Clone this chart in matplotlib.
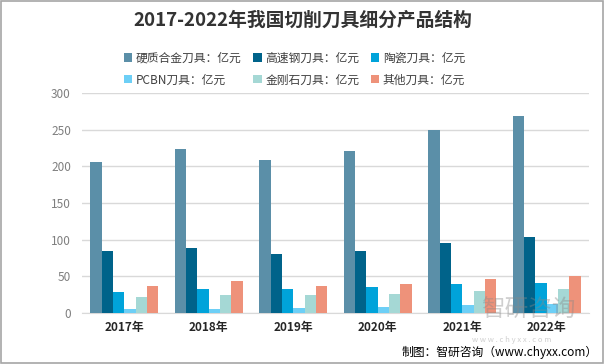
import numpy as np
import matplotlib
matplotlib.use("Agg")
import matplotlib.pyplot as plt
from matplotlib.patches import Rectangle

plt.rcParams['font.family'] = ['Noto Sans CJK SC', 'DejaVu Sans']

# data (亿元)
years = ['2017年', '2018年', '2019年', '2020年', '2021年', '2022年']
series_names = ['硬质合金刀具：亿元', '高速钢刀具：亿元', '陶瓷刀具：亿元',
                'PCBN刀具：亿元', '金刚石刀具：亿元', '其他刀具：亿元']
hard_alloy = [206, 223, 208, 221, 250, 269]
hss = [85, 88, 81, 85, 96, 103]
ceramic = [29, 33, 33, 36, 40, 41]
pcbn = [6, 6, 7, 8.5, 11, 12.5]
diamond = [22, 25, 24, 26, 30, 33]
other = [37, 43, 37, 40, 47, 50]
colors = ['#5B8FA8', '#00638A', '#00A3DA', '#6DCFF6', '#A5D8D5', '#EE927A']

values = [hard_alloy, hss, ceramic, pcbn, diamond, other]

fig = plt.figure(figsize=(6.05, 3.64), dpi=100)
ax = fig.add_axes([82/605, 1-313/364, (589-82)/605, (313-93)/364])

x = np.arange(len(years))
n = len(values)
w = 0.8 / n
for i, (vals, name, c) in enumerate(zip(values, series_names, colors)):
    ax.bar(x - 0.4 + w/2 + i*w, vals, width=w, color=c, label=name, zorder=3)

ax.set_xlim(-0.5, len(years) - 0.5)
ax.set_ylim(0, 300)
ax.set_yticks(range(0, 301, 50))
ax.yaxis.grid(True, color='#D9D9D9', linewidth=1, zorder=0)
for s in ['top', 'right', 'left']:
    ax.spines[s].set_visible(False)
ax.spines['bottom'].set_color('#D9D9D9')
ax.tick_params(axis='both', length=0)
ax.tick_params(axis='y', labelsize=8.5, labelcolor='#7F7F7F', pad=8)
ax.set_xticks(x)
ax.set_xticklabels(years, fontsize=8.5, fontweight='bold', color='#262626')
ax.tick_params(axis='x', pad=6)

fig.text(0.5, 1-20/364, '2017-2022年我国切削刀具细分产品结构', ha='center', va='center',
         fontsize=13.5, fontweight='bold', color='#333333')

# legend laid out row by row
handles, labels = ax.get_legend_handles_labels()
order = [0, 3, 1, 4, 2, 5]
fig.legend([handles[k] for k in order], [labels[k] for k in order], ncol=3,
           loc='center', bbox_to_anchor=(0.487, 1-69/364),
           frameon=False, fontsize=8.5, handlelength=0.7, handleheight=0.7,
           handletextpad=0.3, columnspacing=1.0, labelspacing=0.75,
           labelcolor='#404040')

# watermark
fig.text(528/605, 1-310/364, '智研咨询', ha='center', va='center', fontsize=17,
         color='#888888', alpha=0.4, zorder=10)
fig.text(512/605, 1-340/364, 'w w w . c h y x x . c o m', ha='center', va='center',
         fontsize=5.5, color='#888888', alpha=0.4, zorder=10)

fig.text(598/605, 1-352/364, '制图：智研咨询（www.chyxx.com）', ha='right', va='center',
         fontsize=8.5, color='#000000')

fig.patches.append(Rectangle((0.002, 0.003), 0.995, 0.994, transform=fig.transFigure,
                             fill=False, edgecolor='#A6A6A6', linewidth=1.2))

fig.savefig('out.png', dpi=100)
